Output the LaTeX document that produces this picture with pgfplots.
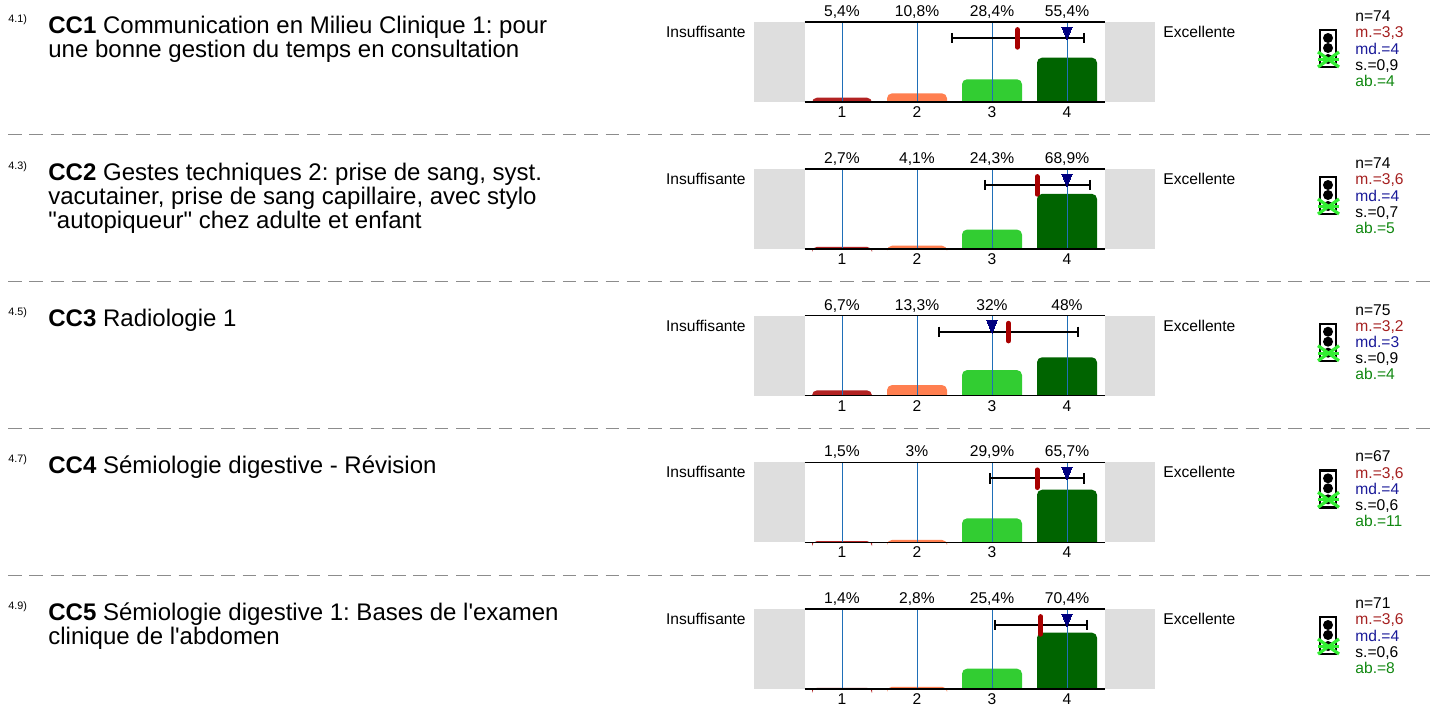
\documentclass[border=0pt]{standalone}
\usepackage{fontspec}
\setmainfont{Liberation Sans}[Ligatures=TeXOff]
\usepackage{pgfplots}
\pgfplotsset{compat=1.18}
\definecolor{cA}{HTML}{B22222}
\definecolor{cB}{HTML}{FF7F50}
\definecolor{cC}{HTML}{32CD32}
\definecolor{cD}{HTML}{006400}
\definecolor{gridblue}{HTML}{1F6FB8}
\definecolor{sideg}{HTML}{DEDEDE}
\definecolor{meanred}{HTML}{A80000}
\definecolor{mednavy}{HTML}{000080}
\definecolor{statm}{HTML}{A52020}
\definecolor{statd}{HTML}{1A1A99}
\definecolor{statb}{HTML}{118811}
\definecolor{xgreen}{HTML}{33EE33}
\newcommand{\fs}{\fontsize{7.8pt}{8pt}\selectfont}
\newcommand{\ft}{\fontsize{12pt}{12pt}\selectfont\frenchspacing}
\newcommand{\fidx}{\fontsize{5.4pt}{6pt}\selectfont}
\pgfplotsset{panel/.style={
  scale only axis, width=200.5pt, height=40pt, clip=false,
  xmin=-0.1733, xmax=5.1733, ymin=0, ymax=100,
  axis line style={draw=none}, tick style={draw=none}, major tick length=0pt,
  ytick=\empty, xtick={1,2,3,4}, xticklabels={1,2,3,4},
  xticklabel style={font=\fs, inner sep=0pt, anchor=north, text height=5.6pt, text depth=0pt, yshift=-2pt},
  anchor=south west}}
% #1 top px; #2-#5 bar heights; #6-#9 percent labels
\newcommand{\panel}[9]{%
\begin{axis}[panel, at={(377pt,{-(#1+80)*0.5pt})}]
\addplot[draw=none,fill=sideg,forget plot] coordinates {(-0.1733,0)(-0.1733,100)(0.5,100)(0.5,0)} --cycle;
\addplot[draw=none,fill=sideg,forget plot] coordinates {(4.5,0)(4.5,100)(5.1733,100)(5.1733,0)} --cycle;
\addplot[draw=none,fill=cA,rounded corners=2.5pt] coordinates {(0.6,0)(0.6,#2)(1.4,#2)(1.4,0)};
\addplot[draw=none,fill=cB,rounded corners=2.5pt] coordinates {(1.6,0)(1.6,#3)(2.4,#3)(2.4,0)};
\addplot[draw=none,fill=cC,rounded corners=2.5pt] coordinates {(2.6,0)(2.6,#4)(3.4,#4)(3.4,0)};
\addplot[draw=none,fill=cD,rounded corners=2.5pt] coordinates {(3.6,0)(3.6,#5)(4.4,#5)(4.4,0)};
\addplot[gridblue,line width=0.5pt] coordinates {(1,0)(1,100)};
\addplot[gridblue,line width=0.5pt] coordinates {(2,0)(2,100)};
\addplot[gridblue,line width=0.5pt] coordinates {(3,0)(3,100)};
\addplot[gridblue,line width=0.5pt] coordinates {(4,0)(4,100)};
\addplot[black,line width=0.65pt] coordinates {(0.5,100)(4.5,100)};
\addplot[black,line width=0.65pt] coordinates {(0.5,0)(4.5,0)};
\addplot[black,line width=1pt,mark=|,mark size=2.6pt,mark options={solid,line width=1pt}] coordinates {(\elo,80)(\ehi,80)};
\addplot[meanred,line width=2.5pt,line cap=round] coordinates {(\emean,68.5)(\emean,90.5)};
\addplot[only marks,mark=triangle*,mark size=2.9pt,mark options={fill=mednavy,draw=mednavy,line width=0pt,rotate=180,yscale=1.4}] coordinates {(\emed,88.5)};
\addplot[gridblue,line width=0.5pt] coordinates {(\emed,72)(\emed,94)};
\node[font=\fs,anchor=base,inner sep=0pt] at (axis cs:1,100) [yshift=2.7pt] {#6};
\node[font=\fs,anchor=base,inner sep=0pt] at (axis cs:2,100) [yshift=2.7pt] {#7};
\node[font=\fs,anchor=base,inner sep=0pt] at (axis cs:3,100) [yshift=2.7pt] {#8};
\node[font=\fs,anchor=base,inner sep=0pt] at (axis cs:4,100) [yshift=2.7pt] {#9};
\end{axis}}
% #1 top; stats
\newcommand{\side}[6]{%
\node[font=\fs,anchor=base east,inner sep=0pt] at (746,#1+15.5) {Insuffisante};
\node[font=\fs,anchor=base west,inner sep=0pt] at (1163,#1+15.5) {Excellente};
\draw[black,line width=1.2pt,fill=white] (1320.2,#1+8) rectangle (1336,#1+45);
\fill[black] (1328,#1+16) circle (2.5pt);
\fill[black] (1328,#1+26) circle (2.5pt);
\fill[black] (1328,#1+37) circle (2.5pt);
\draw[xgreen,line width=1.6pt] (1318,#1+30) -- (1339,#1+45);
\draw[xgreen,line width=1.6pt] (1339,#1+30) -- (1318,#1+45);
\draw[xgreen,line width=1.6pt] (1318,#1+37.5) -- (1339,#1+37.5);
\node[font=\fs,anchor=base west,inner sep=0pt] at (1355,#1-0.5) {n=#2};
\node[font=\fs,anchor=base west,inner sep=0pt,text=statm] at (1355,#1+15.8) {m.=#3};
\node[font=\fs,anchor=base west,inner sep=0pt,text=statd] at (1355,#1+32) {md.=#4};
\node[font=\fs,anchor=base west,inner sep=0pt] at (1355,#1+48) {s.=#5};
\node[font=\fs,anchor=base west,inner sep=0pt,text=statb] at (1355,#1+64) {ab.=#6};}
\newcommand{\tl}[3]{\node[font=\ft,anchor=base west,inner sep=0pt] at (48,#1+11+#2) {#3};}
\newcommand{\idx}[2]{\node[font=\fidx,anchor=base west,inner sep=0pt] at (8,#1) {#2};}
\newcommand{\hsep}[1]{\draw[color=gray!90,line width=0.6pt,dash pattern=on 6.75pt off 3.92pt] (8,#1) -- (1430,#1);}
\begin{document}
\begin{tikzpicture}[x=0.5pt,y=-0.5pt]
\path[use as bounding box] (0,0) rectangle (1434,707);
% panel 1
\def\elo{2.47}\def\ehi{4.23}\def\emean{3.34}\def\emed{4}
\panel{22}{5.4}{10.8}{28.4}{55.4}{5,4\%}{10,8\%}{28,4\%}{55,4\%}
\side{22}{74}{3,3}{4}{0,9}{4}
\idx{22}{4.1)}
\tl{22}{0}{\textbf{CC1} Communication en Milieu Clinique 1: pour}
\tl{22}{24}{une bonne gestion du temps en consultation}
\hsep{134.5}
% panel 2
\def\elo{2.90}\def\ehi{4.31}\def\emean{3.60}\def\emed{4}
\panel{169}{2.7}{4.1}{24.3}{68.9}{2,7\%}{4,1\%}{24,3\%}{68,9\%}
\side{169}{74}{3,6}{4}{0,7}{5}
\idx{169}{4.3)}
\tl{169}{0}{\textbf{CC2} Gestes techniques 2: prise de sang, syst.}
\tl{169}{24}{vacutainer, prise de sang capillaire, avec stylo}
\tl{169}{48}{"autopiqueur" chez adulte et enfant}
\hsep{281.5}
% panel 3
\def\elo{2.29}\def\ehi{4.14}\def\emean{3.22}\def\emed{3}
\panel{315.7}{6.7}{13.3}{32}{48}{6,7\%}{13,3\%}{32\%}{48\%}
\side{315.7}{75}{3,2}{3}{0,9}{4}
\idx{315.7}{4.5)}
\tl{315.7}{0}{\textbf{CC3} Radiologie 1}
\hsep{428.5}
% panel 4
\def\elo{2.97}\def\ehi{4.23}\def\emean{3.60}\def\emed{4}
\panel{462.3}{1.5}{3}{29.9}{65.7}{1,5\%}{3\%}{29,9\%}{65,7\%}
\side{462.3}{67}{3,6}{4}{0,6}{11}
\idx{462.3}{4.7)}
\tl{462.3}{0}{\textbf{CC4} Sémiologie digestive - Révision}
\hsep{575.5}
% panel 5
\def\elo{3.04}\def\ehi{4.27}\def\emean{3.65}\def\emed{4}
\panel{609}{1.4}{2.8}{25.4}{70.4}{1,4\%}{2,8\%}{25,4\%}{70,4\%}
\side{609}{71}{3,6}{4}{0,6}{8}
\idx{609}{4.9)}
\tl{609}{0}{\textbf{CC5} Sémiologie digestive 1: Bases de l'examen}
\tl{609}{24}{clinique de l'abdomen}
\end{tikzpicture}
\end{document}
